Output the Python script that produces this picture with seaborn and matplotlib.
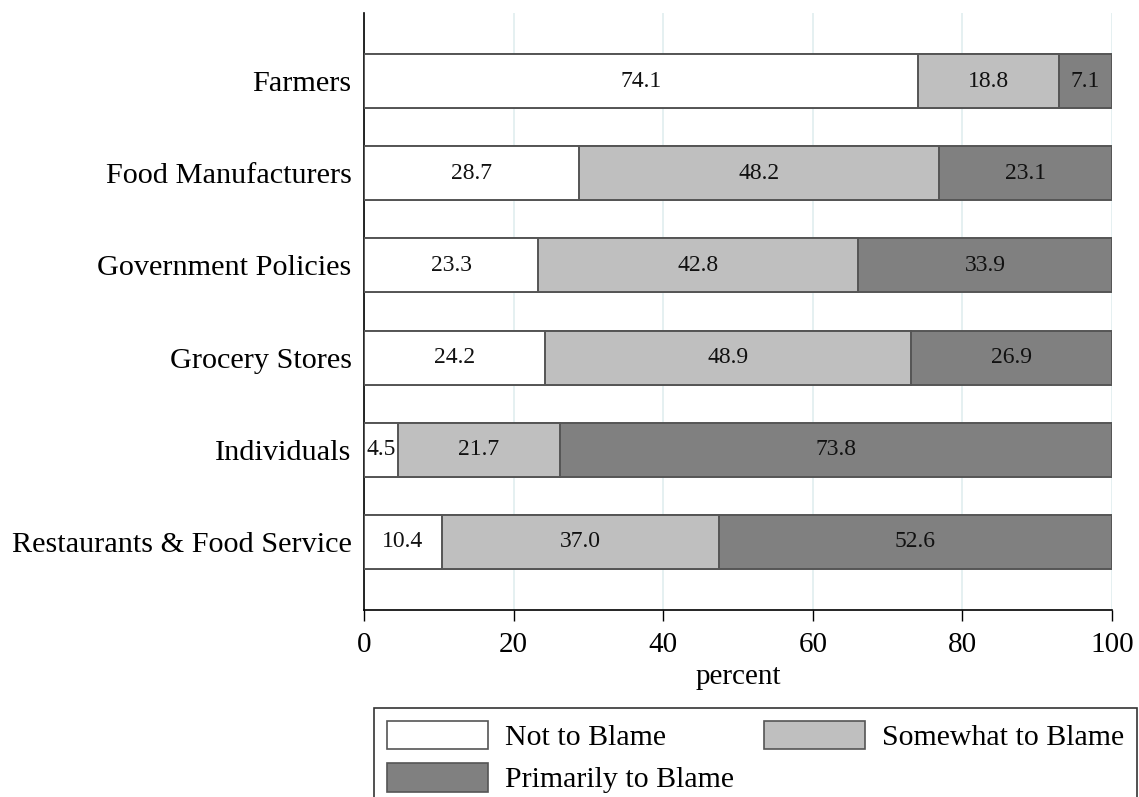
import pandas as pd
import matplotlib
matplotlib.use("Agg")
import matplotlib.pyplot as plt
from matplotlib.patches import Patch
import seaborn as sns

# 数据
categories = ['Farmers', 'Food Manufacturers', 'Government Policies',
              'Grocery Stores', 'Individuals', 'Restaurants & Food Service']
not_blame = [74.1, 28.7, 23.3, 24.2, 4.5, 10.4]
somewhat_blame = [18.8, 48.2, 42.8, 48.9, 21.7, 37.0]
primarily_blame = [7.1, 23.1, 33.9, 26.9, 73.8, 52.6]
series_names = ['Not to Blame', 'Somewhat to Blame', 'Primarily to Blame']
colors = ['#ffffff', '#bfbfbf', '#808080']

sns.set_theme(style="white")
plt.rcParams['font.family'] = ['Liberation Serif', 'DejaVu Serif']
plt.rcParams['text.color'] = 'black'
plt.rcParams['xtick.color'] = 'black'
plt.rcParams['ytick.color'] = 'black'
plt.rcParams['axes.labelcolor'] = 'black'

df = pd.DataFrame({'category': categories, 'not': not_blame,
                   'some': somewhat_blame, 'prim': primarily_blame})
df['c1'] = df['not']
df['c2'] = df['not'] + df['some']
df['c3'] = df['c2'] + df['prim']

fig = plt.figure(figsize=(11.39, 7.97), dpi=100)
ax = fig.add_axes([364 / 1139, 1 - 610 / 797, (1112 - 364) / 1139, (610 - 13) / 797])

# 堆叠：先画总长，再覆盖
edge = '#555555'
for col, c in [('c3', colors[2]), ('c2', colors[1]), ('c1', colors[0])]:
    sns.barplot(data=df, x=col, y='category', color=c, edgecolor=edge,
                linewidth=1.4, width=0.587, saturation=1, ax=ax, zorder=3)

# 数值标签
for i, row in df.iterrows():
    for val, end in [(row['not'], row['c1']), (row['some'], row['c2']), (row['prim'], row['c3'])]:
        ax.text(end - val / 2, i, f'{val:.1f}', ha='center', va='center',
                fontsize=17, color='#111111', zorder=5)

ax.set_xlim(0, 100)
ax.set_ylim(5.74, -0.74)
ax.set_xticks(range(0, 101, 20))
ax.xaxis.grid(True, color='#e3eff0', linewidth=1.3, zorder=0)
ax.yaxis.grid(False)
ax.set_axisbelow(True)
for s in ['top', 'right']:
    ax.spines[s].set_visible(False)
for s in ['left', 'bottom']:
    ax.spines[s].set_color('black')
    ax.spines[s].set_linewidth(1.2)
ax.tick_params(axis='x', bottom=True, length=8, width=1, color='black',
               labelsize=21, pad=8)
ax.tick_params(axis='y', left=False, labelsize=21.8, pad=3)
ax.set_xlabel('percent', fontsize=21, labelpad=4)
ax.set_ylabel('')

# 图例按行排列：Not | Somewhat / Primarily
order = [0, 2, 1]
handles = [Patch(facecolor=colors[k], edgecolor=edge, linewidth=1.2) for k in order]
labels = [series_names[k] for k in order]
leg = fig.legend(handles, labels, loc='upper left',
                 bbox_to_anchor=(374 / 1139, 1 - 708 / 797), ncol=2,
                 fontsize=21.5, frameon=True, fancybox=False, edgecolor='black',
                 handlelength=3.4, handleheight=1.1, handletextpad=0.56,
                 columnspacing=1.0, labelspacing=0.4, borderpad=0.42,
                 borderaxespad=0)
leg.get_frame().set_linewidth(1.2)

fig.savefig('out.png', dpi=100)
